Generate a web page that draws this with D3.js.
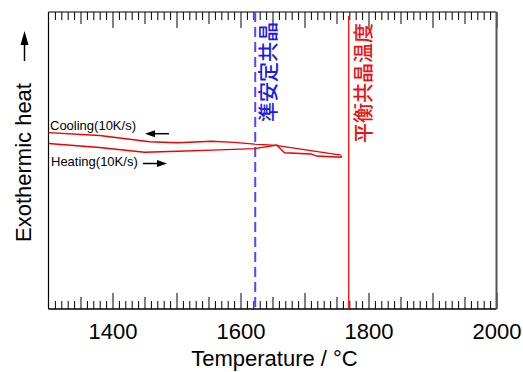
<!DOCTYPE html>
<html>
<head>
<meta charset="utf-8">
<script src="https://cdn.jsdelivr.net/npm/d3@7"></script>
<style>
  body { margin: 0; background: #fff; }
  text { font-family: "Liberation Sans", Arial, sans-serif; }
</style>
</head>
<body>
<div id="chart"></div>
<script>
// x axis
var tempDomain = [1300, 2000]
var tempLabels = [1400, 1600, 1800, 2000]

// DSC traces (temperature in C, signal in arbitrary units)
var coolingT = [1757, 1655, 1622, 1591, 1555, 1502, 1458, 1380, 1300]
var coolingV = [51.8, 55.1, 55.5, 56.1, 56.5, 56.0, 56.3, 58.4, 59.4]
var heatingT = [1300, 1380, 1450, 1502, 1555, 1622, 1657, 1661, 1669, 1710, 1719, 1757, 1758]
var heatingV = [55.7, 54.4, 52.8, 53.1, 53.5, 54.0, 55.2, 54.2, 52.6, 52.2, 51.5, 51.1, 51.6]

// reference temperatures
var metastableT = 1623
var equilibriumT = 1769
var metastableLabel = '準安定共晶'
var equilibriumLabel = '平衡共晶温度'

var W = 523, H = 372
var margin = {left: 48.5, right: 26.5, top: 12, bottom: 63}

var svg = d3.select('#chart').append('svg')
  .attr('width', W)
  .attr('height', H)

var x = d3.scaleLinear().domain(tempDomain).range([margin.left, W - margin.right])
var y = d3.scaleLinear().domain([0, 100]).range([H - margin.bottom, margin.top])

var x0 = x.range()[0], x1 = x.range()[1]
var y0 = y.range()[0], y1 = y.range()[1]

// tick sets: every 10, every 50, every 100
var minorTicks = d3.range(1310, 2000, 10).filter(function(t){ return t % 50 != 0 })
var midTicks = d3.range(1350, 2000, 100)
var majorTicks = d3.range(1400, 2001, 100)

function addTicks(gen, pos, vals, len) {
  svg.append('g')
    .attr('transform', 'translate(0,' + pos + ')')
    .call(gen(x).tickValues(vals).tickSize(len).tickFormat(''))
    .call(function(g){ g.select('.domain').remove() })
    .selectAll('line').attr('stroke', '#000').attr('stroke-width', 1)
}
// bottom ticks point up (inside), top ticks point down (inside)
addTicks(d3.axisTop, y0, minorTicks, 8)
addTicks(d3.axisTop, y0, midTicks, 12)
addTicks(d3.axisTop, y0, majorTicks, 16)
addTicks(d3.axisBottom, y1, minorTicks, 8)
addTicks(d3.axisBottom, y1, midTicks, 12)
addTicks(d3.axisBottom, y1, majorTicks, 16)

// tick labels
svg.append('g')
  .attr('transform', 'translate(0,' + y0 + ')')
  .call(d3.axisBottom(x).tickValues(tempLabels).tickSize(0).tickPadding(14).tickFormat(d3.format('d')))
  .call(function(g){ g.select('.domain').remove() })
  .selectAll('text')
  .style('font-family', '"Liberation Sans", Arial, sans-serif')
  .style('font-size', '22px')
  .attr('fill', '#000')

// frame
svg.append('line').attr('x1', x0).attr('x2', x1).attr('y1', y1).attr('y2', y1)
  .attr('stroke', '#000').attr('stroke-width', 1.2)
svg.append('line').attr('x1', x0).attr('x2', x1).attr('y1', y0).attr('y2', y0)
  .attr('stroke', '#000').attr('stroke-width', 1.5)
svg.append('line').attr('x1', x0).attr('x2', x0).attr('y1', y1).attr('y2', y0)
  .attr('stroke', '#000').attr('stroke-width', 1.2)
svg.append('line').attr('x1', x1).attr('x2', x1).attr('y1', y1).attr('y2', y0)
  .attr('stroke', '#555').attr('stroke-width', 2)

// reference lines
svg.append('line')
  .attr('x1', x(metastableT)).attr('x2', x(metastableT))
  .attr('y1', y1).attr('y2', y0)
  .attr('stroke', '#4a4aff').attr('stroke-width', 2)
  .attr('stroke-dasharray', '10,5')

svg.append('line')
  .attr('x1', x(equilibriumT)).attr('x2', x(equilibriumT))
  .attr('y1', y1 + 4).attr('y2', y0)
  .attr('stroke', '#ff1a1a').attr('stroke-width', 1.4)

svg.append('text')
  .attr('transform', 'translate(' + (x(metastableT) + 21) + ',122) rotate(-90)')
  .attr('fill', '#1a1aee')
  .style('font-family', '"Noto Sans CJK JP", sans-serif')
  .style('font-size', '20px')
  .style('font-weight', '500')
  .text(metastableLabel)

svg.append('text')
  .attr('transform', 'translate(' + (x(equilibriumT) + 22) + ',143) rotate(-90)')
  .attr('fill', '#ee1111')
  .style('font-family', '"Noto Sans CJK JP", sans-serif')
  .style('font-size', '20px')
  .style('font-weight', '500')
  .text(equilibriumLabel)

// curves
var line = d3.line()
  .x(function(d){ return x(d[0]) })
  .y(function(d){ return y(d[1]) })

svg.append('path')
  .datum(d3.zip(coolingT, coolingV))
  .attr('d', line)
  .attr('fill', 'none')
  .attr('stroke', '#ee0000')
  .attr('stroke-width', 1.4)

svg.append('path')
  .datum(d3.zip(heatingT, heatingV))
  .attr('d', line)
  .attr('fill', 'none')
  .attr('stroke', '#ee0000')
  .attr('stroke-width', 1.4)

// annotations with arrows
function arrow(xa, xb, yy) {
  // line from xa to xb with head at xb
  var dir = xb > xa ? 1 : -1
  svg.append('line')
    .attr('x1', xa).attr('x2', xb - dir * 7).attr('y1', yy).attr('y2', yy)
    .attr('stroke', '#000').attr('stroke-width', 1.5)
  svg.append('path')
    .attr('d', 'M' + xb + ',' + yy + 'L' + (xb - dir * 10) + ',' + (yy - 3.5) + 'L' + (xb - dir * 10) + ',' + (yy + 3.5) + 'Z')
    .attr('fill', '#000')
}

svg.append('text').attr('x', 50).attr('y', 129.5)
  .style('font-size', '13px').text('Cooling(10K/s)')
arrow(169, 145, 133.7)

svg.append('text').attr('x', 51).attr('y', 165.5)
  .style('font-size', '13px').text('Heating(10K/s)')
arrow(143, 167, 163.5)

// axis titles
svg.append('text')
  .attr('x', (x0 + x1) / 2 + 2).attr('y', 366)
  .attr('text-anchor', 'middle')
  .style('font-size', '22px')
  .text('Temperature / °C')

svg.append('text')
  .attr('transform', 'translate(31,242) rotate(-90)')
  .style('font-size', '22px')
  .text('Exothermic heat')

// vertical arrow beside the y title
svg.append('line').attr('x1', 24.5).attr('x2', 24.5).attr('y1', 61).attr('y2', 42)
  .attr('stroke', '#000').attr('stroke-width', 1.5)
svg.append('path')
  .attr('d', 'M24.5,31L20.5,45L28.5,45Z')
  .attr('fill', '#000')
</script>
</body>
</html>
